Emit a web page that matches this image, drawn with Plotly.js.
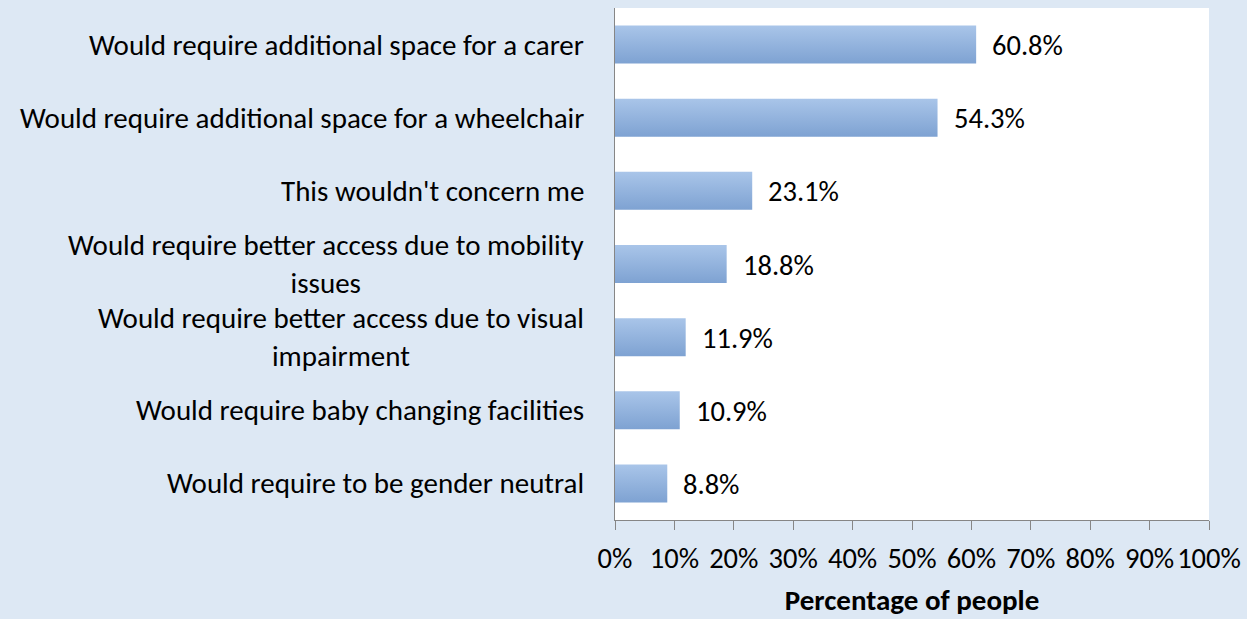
<!DOCTYPE html>
<html>
<head>
<meta charset="utf-8">
<script src="https://cdn.plot.ly/plotly-3.0.1.min.js"></script>
<style>html,body{margin:0;padding:0;background:#dde8f4;}#chart{width:1247px;height:619px;}</style>
</head>
<body>
<div id="chart"></div>
<script>
const categories = [
  "Would require additional space for a carer",
  "Would require additional space for a wheelchair",
  "This wouldn't concern me",
  "Would require better access due to mobility<br>issues",
  "Would require better access due to visual<br>impairment",
  "Would require baby changing facilities",
  "Would require to be gender neutral"
];
const values = [60.8, 54.3, 23.1, 18.8, 11.9, 10.9, 8.8];
const tickValues = [0,10,20,30,40,50,60,70,80,90,100];
const tickLabels = ["0%","10%","20%","30%","40%","50%","60%","70%","80%","90%","100%"];
const axisTitle = "Percentage of people";

const FONT = "Carlito, Lato, 'Open Sans', sans-serif";
const ids = categories.map((c,i)=>"c"+i);

const trace = {
  type: "bar",
  orientation: "h",
  x: values,
  y: ids,
  marker: {color: "#93b3de", line: {width: 0}},
  hoverinfo: "none"
};

const annotations = [];
categories.forEach((c,i)=>{
  annotations.push({
    xref: "paper", yref: "y", x: 0, y: ids[i],
    text: c, showarrow: false, xanchor: "right", yanchor: "middle",
    align: "center", xshift: -29,
    font: {family: FONT, size: 29, color: "#000"}
  });
  annotations.push({
    xref: "x", yref: "y", x: values[i], y: ids[i],
    text: values[i].toFixed(1) + "%", showarrow: false,
    xanchor: "left", yanchor: "middle", xshift: 14, yshift: -1,
    font: {family: FONT, size: 28.5, color: "#000"}
  });
});

const layout = {
  width: 1247, height: 619,
  margin: {l: 615, r: 38, t: 8, b: 99, pad: 0},
  paper_bgcolor: "#dde8f4",
  plot_bgcolor: "#ffffff",
  bargap: 0.48,
  showlegend: false,
  font: {family: FONT, size: 28.5, color: "#000"},
  xaxis: {
    range: [0, 100],
    tickvals: tickValues,
    ticktext: tickLabels,
    showgrid: false, zeroline: false,
    showline: true, linecolor: "#868686", linewidth: 1,
    ticks: "outside", ticklen: 9, tickcolor: "#868686", tickwidth: 1,
    ticklabelstandoff: 4,
    tickfont: {family: FONT, size: 28.5, color: "#000"},
    title: {text: "<b>" + axisTitle + "</b>", font: {family: FONT, size: 29, color: "#000"}, standoff: 14},
    fixedrange: true
  },
  yaxis: {
    type: "category",
    categoryorder: "array", categoryarray: ids,
    autorange: "reversed",
    showticklabels: false,
    showgrid: false, zeroline: false,
    showline: true, linecolor: "#868686", linewidth: 1,
    ticks: "",
    fixedrange: true
  },
  annotations: annotations
};

Plotly.newPlot("chart", [trace], layout, {staticPlot: true, displayModeBar: false}).then(function(gd){
  const svg = gd.querySelector(".main-svg");
  const ns = "http://www.w3.org/2000/svg";
  let defs = svg.querySelector("defs");
  if (!defs) { defs = document.createElementNS(ns, "defs"); svg.insertBefore(defs, svg.firstChild); }
  const lg = document.createElementNS(ns, "linearGradient");
  lg.setAttribute("id", "barGrad");
  lg.setAttribute("x1", "0"); lg.setAttribute("y1", "0");
  lg.setAttribute("x2", "0"); lg.setAttribute("y2", "1");
  [["0%","#a9c5e9"],["100%","#7ea2d2"]].forEach(function(s){
    const st = document.createElementNS(ns, "stop");
    st.setAttribute("offset", s[0]); st.setAttribute("stop-color", s[1]);
    lg.appendChild(st);
  });
  defs.appendChild(lg);
  gd.querySelectorAll(".bars .point path").forEach(function(p){
    p.style.fill = "url(#barGrad)";
  });
});
</script>
</body>
</html>
